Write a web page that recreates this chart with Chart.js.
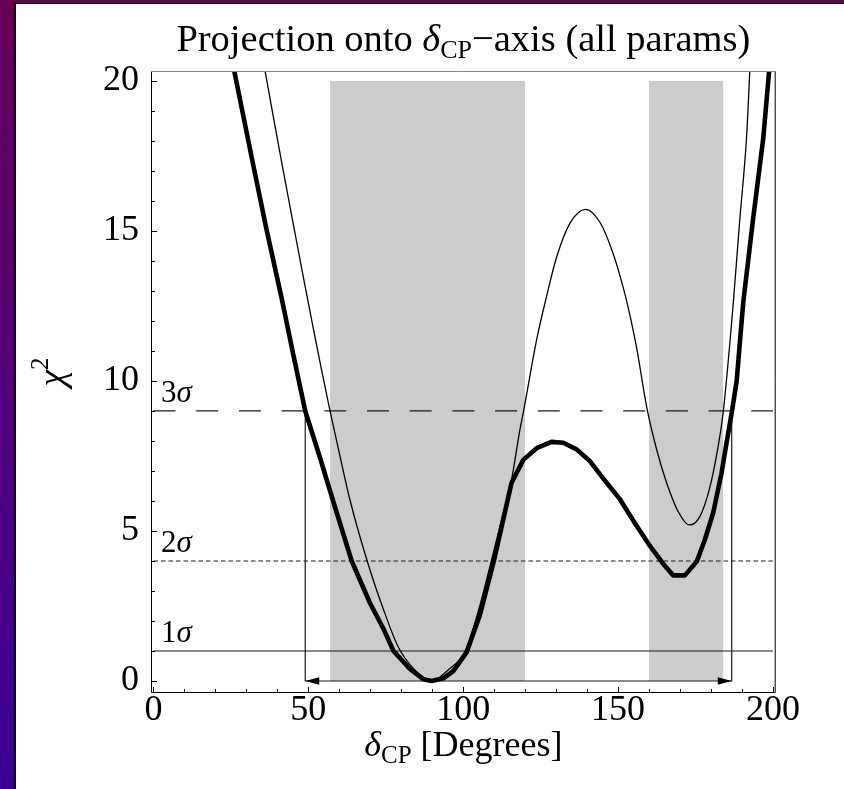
<!DOCTYPE html>
<html><head><meta charset="utf-8">
<script src="https://cdn.jsdelivr.net/npm/chart.js@4.4.1/dist/chart.umd.min.js"></script>
<style>
html,body{margin:0;padding:0;}
body{width:844px;height:789px;position:relative;overflow:hidden;background:linear-gradient(to bottom,#660055 0%,#52007a 50%,#3a0094 100%);}
#panel{position:absolute;left:14px;top:3px;width:830px;height:786px;background:#fff;border-left:2px solid #000;border-top:1px solid #000;box-sizing:border-box;}
#wrap{position:absolute;left:0;top:0;width:844px;height:789px;}
</style></head><body>
<div id="panel"></div>
<div id="wrap"><canvas id="c"></canvas></div>
<script>
// ---- data ----
const xTicks = [0, 50, 100, 150, 200];
const yTicks = [0, 5, 10, 15, 20];
const xMinorTicks = [0,10,20,30,40,50,60,70,80,90,100,110,120,130,140,150,160,170,180,190,200];
const yMinorTicks = [0,1,2,3,4,5,6,7,8,9,10,11,12,13,14,15,16,17,18,19,20];

const thickDelta = [25.0, 26.0, 32.2, 36.5, 41.4, 45.1, 49.0, 53.9, 58.0, 64.0, 69.9, 74.2, 77.5, 82.8, 87.1, 89.8, 93.6, 96.8, 101.1, 105.4, 109.9, 112.9, 115.6, 119.4, 123.7, 128.5, 132.3, 136.6, 140.9, 145.2, 150.6, 155.5, 160.3, 164.6, 167.8, 171.6, 175.4, 178.0, 180.7, 183.4, 185.0, 186.8, 188.3, 190.4, 193.6, 196.9, 198.5, 199.2];
const thickChi2  = [20.9, 20.37, 17.2, 15.05, 12.75, 10.9, 9.0, 7.4, 6.0, 4.0, 2.6, 1.75, 1.0, 0.4, 0.06, 0.0, 0.09, 0.33, 0.95, 2.2, 4.0, 5.37, 6.6, 7.37, 7.76, 7.97, 7.94, 7.72, 7.33, 6.75, 6.06, 5.25, 4.5, 3.9, 3.52, 3.52, 3.98, 4.7, 5.6, 6.92, 7.92, 9.0, 10.0, 12.6, 15.4, 18.1, 20.0, 20.9];

const thinDelta = [35.2, 36.0, 38.7, 41.9, 45.1, 48.4, 51.6, 54.3, 57.0, 60.2, 63.4, 69.3, 74.2, 79.0, 83.9, 89.8, 95.0, 100.6, 104.8, 108.6, 112.4, 115.6, 118.3, 119.5, 123.7, 126.9, 130.2, 134.5, 139.5, 144.2, 148.4, 151.7, 153.8, 156.0, 159.3, 162.5, 165.7, 169.4, 173.0, 176.4, 179.7, 182.3, 184.0, 187.2, 189.3, 191.5, 192.4, 192.8];
const thinChi2  = [20.8, 20.35, 18.8, 17.0, 15.25, 13.45, 11.75, 10.35, 9.0, 7.5, 6.05, 3.9, 2.4, 1.14, 0.42, 0.0, 0.35, 1.0, 2.3, 3.8, 5.37, 6.7, 8.37, 9.0, 11.37, 12.81, 14.14, 15.26, 15.72, 15.28, 14.25, 13.1, 12.2, 11.1, 9.1, 7.7, 6.6, 5.65, 5.2, 5.48, 6.48, 7.81, 9.0, 12.6, 15.37, 18.14, 20.03, 20.9];

const bandStart = [57, 160];
const bandEnd   = [120, 184];
const bandTop   = 20;

const sigmaLevels = [1, 4, 9];
const sigmaNames  = ['1', '2', '3'];

const rangeDelta = [49.0, 186.7];
const rangeChi2  = 9;

// ---- helpers ----
const SERIF = '"Liberation Serif", "Times New Roman", serif';
const pts = (xs, ys) => xs.map((x, i) => ({x: x, y: ys[i]}));
const dashes = {1: [], 4: [4.5, 3], 9: [22, 20.7]};

const datasets = [];
bandStart.forEach((s, i) => {
  datasets.push({data: [{x: s, y: bandTop}, {x: bandEnd[i], y: bandTop}], borderWidth: 0, borderColor: 'rgba(0,0,0,0)',
    backgroundColor: '#cccccc', fill: 'origin', pointRadius: 0, order: 10, clip: 0});
});
sigmaLevels.forEach(l => {
  datasets.push({data: [{x: 0, y: l}, {x: 200, y: l}], borderColor: '#1a1a1a', borderWidth: 1.2,
    borderDash: dashes[l], pointRadius: 0, fill: false, order: 5, clip: 0});
});
datasets.push({data: [{x: rangeDelta[0], y: rangeChi2}, {x: rangeDelta[0], y: 0}, {x: rangeDelta[1], y: 0}, {x: rangeDelta[1], y: rangeChi2}],
  borderColor: '#1a1a1a', borderWidth: 1.2, pointRadius: 0, fill: false, order: 4, clip: 0});
datasets.push({data: pts(thinDelta, thinChi2), borderColor: '#000', borderWidth: 1.3, pointRadius: 0, fill: false,
  cubicInterpolationMode: 'monotone', order: 2, clip: 0});
datasets.push({data: pts(thickDelta, thickChi2), borderColor: '#000', borderWidth: 4.6, pointRadius: 0, fill: false,
  tension: 0, borderJoinStyle: 'round', borderCapStyle: 'round', order: 1, clip: 0});

function drawRuns(ctx, runs, x, y, align) {
  let total = 0;
  runs.forEach(r => { ctx.font = r.f; r.w = ctx.measureText(r.t).width; total += r.w; });
  let cx = align === 'center' ? x - total / 2 : (align === 'right' ? x - total : x);
  ctx.textAlign = 'left'; ctx.textBaseline = 'alphabetic'; ctx.fillStyle = '#000';
  runs.forEach(r => { ctx.font = r.f; ctx.fillText(r.t, cx, y + (r.dy || 0)); cx += r.w; });
}

const decor = {
  id: 'decor',
  afterDraw(chart) {
    const ctx = chart.ctx, a = chart.chartArea, xs = chart.scales.x, ys = chart.scales.y;
    ctx.save();
    // frame
    ctx.lineWidth = 1; ctx.strokeStyle = '#000';
    ctx.beginPath();
    ctx.moveTo(a.left + 0.5, a.top); ctx.lineTo(a.left + 0.5, a.bottom - 0.5);
    ctx.lineTo(a.right - 0.5, a.bottom - 0.5); ctx.lineTo(a.right - 0.5, a.top);
    ctx.stroke();
    ctx.strokeStyle = '#888';
    ctx.beginPath(); ctx.moveTo(a.left, a.top + 0.5); ctx.lineTo(a.right, a.top + 0.5); ctx.stroke();
    // inward ticks
    ctx.strokeStyle = '#000';
    ctx.beginPath();
    xMinorTicks.forEach(v => {
      const px = Math.round(xs.getPixelForValue(v)) + 0.5;
      const len = xTicks.includes(v) ? 6 : 4;
      ctx.moveTo(px, a.bottom); ctx.lineTo(px, a.bottom - len);
    });
    yMinorTicks.forEach(v => {
      const py = Math.round(ys.getPixelForValue(v)) + 0.5;
      const len = yTicks.includes(v) ? 6 : 4;
      ctx.moveTo(a.left, py); ctx.lineTo(a.left + len, py);
    });
    ctx.stroke();
    // arrowheads on the range line
    const ay = ys.getPixelForValue(0);
    const x1 = xs.getPixelForValue(rangeDelta[0]), x2 = xs.getPixelForValue(rangeDelta[1]);
    ctx.fillStyle = '#000';
    ctx.beginPath(); ctx.moveTo(x1, ay); ctx.lineTo(x1 + 14, ay - 3.8); ctx.lineTo(x1 + 14, ay + 3.8); ctx.closePath(); ctx.fill();
    ctx.beginPath(); ctx.moveTo(x2, ay); ctx.lineTo(x2 - 14, ay - 3.8); ctx.lineTo(x2 - 14, ay + 3.8); ctx.closePath(); ctx.fill();
    // sigma labels
    sigmaLevels.forEach((l, i) => {
      const py = ys.getPixelForValue(l) - 9;
      drawRuns(ctx, [{t: sigmaNames[i], f: '31px ' + SERIF}, {t: 'σ', f: 'italic 31px ' + SERIF}], a.left + 10, py, 'left');
    });
    // title
    drawRuns(ctx, [
      {t: 'Projection onto ', f: '38.5px ' + SERIF},
      {t: 'δ', f: 'italic 38.5px ' + SERIF},
      {t: 'CP', f: '26px ' + SERIF, dy: 7},
      {t: '\u2212axis (all params)', f: '38.5px ' + SERIF}
    ], (a.left + a.right) / 2, 51, 'center');
    // x label
    drawRuns(ctx, [
      {t: 'δ', f: 'italic 36px ' + SERIF},
      {t: 'CP', f: '25px ' + SERIF, dy: 7},
      {t: ' [Degrees]', f: '36px ' + SERIF}
    ], (a.left + a.right) / 2, 756, 'center');
    // y label
    ctx.translate(64, 372);
    ctx.rotate(-Math.PI / 2);
    drawRuns(ctx, [
      {t: 'χ', f: 'italic 38px ' + SERIF},
      {t: '2', f: '25px ' + SERIF, dy: -16}
    ], 0, 0, 'center');
    ctx.restore();
  }
};

new Chart(document.getElementById('c'), {
  type: 'line',
  data: {datasets: datasets},
  options: {
    responsive: true, maintainAspectRatio: false, animation: false,
    layout: {padding: {left: 0, right: 68.3, top: 71, bottom: 0}},
    plugins: {legend: {display: false}, tooltip: {enabled: false}, title: {display: false}},
    scales: {
      x: {
        type: 'linear', min: -0.8, max: 200.9, position: 'bottom',
        afterBuildTicks: s => { s.ticks = xTicks.map(v => ({value: v})); },
        afterFit: s => { s.height = 96; },
        grid: {display: false, drawTicks: false}, border: {display: false},
        ticks: {color: '#000', padding: 0, maxRotation: 0, autoSkip: false,
          font: {family: SERIF, size: 36, lineHeight: 1}}
      },
      y: {
        type: 'linear', min: -0.4, max: 20.33,
        afterBuildTicks: s => { s.ticks = yTicks.map(v => ({value: v})); },
        afterFit: s => { s.width = 151; },
        grid: {display: false, drawTicks: false}, border: {display: false},
        ticks: {color: '#000', padding: 12, font: {family: SERIF, size: 36, lineHeight: 1}}
      }
    }
  },
  plugins: [decor]
});
</script>
</body></html>
